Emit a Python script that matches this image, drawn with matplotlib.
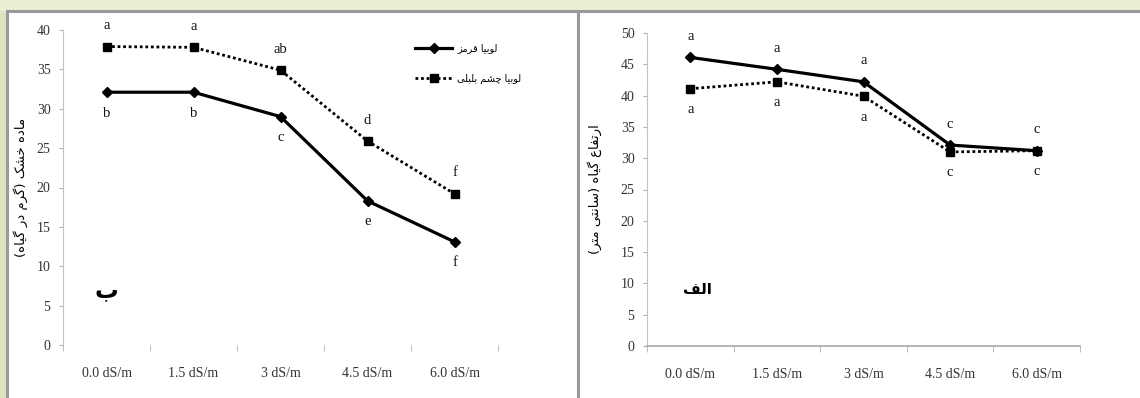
import matplotlib
matplotlib.use("Agg")
import matplotlib.pyplot as plt
from matplotlib.lines import Line2D
from matplotlib.patches import Rectangle

# --- data ---
salinity = ["0.0 dS/m", "1.5 dS/m", "3 dS/m", "4.5 dS/m", "6.0 dS/m"]

# panel "ب": dry matter (g per plant)
dry_red = [32.1, 32.1, 29.0, 18.3, 13.1]
dry_cowpea = [37.9, 37.8, 34.9, 25.9, 19.2]
dry_red_letters = ["b", "b", "c", "e", "f"]
dry_cowpea_letters = ["a", "a", "ab", "d", "f"]

# panel "الف": plant height (cm)
h_red = [46.1, 44.2, 42.2, 32.1, 31.2]
h_cowpea = [41.1, 42.2, 39.9, 31.0, 31.2]
h_red_letters = ["a", "a", "a", "c", "c"]
h_cowpea_letters = ["a", "a", "a", "c", "c"]

name_red = "لوبیا قرمز"
name_cowpea = "لوبیا چشم بلبلی"
ylabel_dry = "ماده خشک (گرم در گیاه)"
ylabel_height = "ارتفاع گیاه (سانتی متر)"

# --- minimal Persian shaping (no arabic_reshaper available) ---
# letter: (isolated, final, initial, medial)
FORMS = {
    "ا": ("\uFE8D", "\uFE8E", None, None),
    "د": ("\uFEA9", "\uFEAA", None, None),
    "ر": ("\uFEAD", "\uFEAE", None, None),
    "ز": ("\uFEAF", "\uFEB0", None, None),
    "و": ("\uFEED", "\uFEEE", None, None),
    "ب": ("\uFE8F", "\uFE90", "\uFE91", "\uFE92"),
    "ت": ("\uFE95", "\uFE96", "\uFE97", "\uFE98"),
    "خ": ("\uFEA5", "\uFEA6", "\uFEA7", "\uFEA8"),
    "س": ("\uFEB1", "\uFEB2", "\uFEB3", "\uFEB4"),
    "ش": ("\uFEB5", "\uFEB6", "\uFEB7", "\uFEB8"),
    "ع": ("\uFEC9", "\uFECA", "\uFECB", "\uFECC"),
    "ف": ("\uFED1", "\uFED2", "\uFED3", "\uFED4"),
    "ق": ("\uFED5", "\uFED6", "\uFED7", "\uFED8"),
    "ل": ("\uFEDD", "\uFEDE", "\uFEDF", "\uFEE0"),
    "م": ("\uFEE1", "\uFEE2", "\uFEE3", "\uFEE4"),
    "ن": ("\uFEE5", "\uFEE6", "\uFEE7", "\uFEE8"),
    "ه": ("\uFEE9", "\uFEEA", "\uFEEB", "\uFEEC"),
    "چ": ("\uFB7A", "\uFB7B", "\uFB7C", "\uFB7D"),
    "ک": ("\uFB8E", "\uFB8F", "\uFB90", "\uFB91"),
    "گ": ("\uFB92", "\uFB93", "\uFB94", "\uFB95"),
    "ی": ("\uFBFC", "\uFBFD", "\uFBFE", "\uFBFF"),
}
MIRROR = {"(": ")", ")": "("}


def shape(text):
    out = []
    for i, ch in enumerate(text):
        if ch not in FORMS:
            out.append(MIRROR.get(ch, ch))
            continue
        prev = text[i - 1] if i > 0 else ""
        nxt = text[i + 1] if i + 1 < len(text) else ""
        joins_prev = prev in FORMS and FORMS[prev][2] is not None
        joins_next = FORMS[ch][2] is not None and nxt in FORMS
        iso, fin, ini, med = FORMS[ch]
        if joins_prev and joins_next:
            out.append(med)
        elif joins_prev:
            out.append(fin)
        elif joins_next:
            out.append(ini)
        else:
            out.append(iso)
    return "".join(reversed(out))


SERIF = "Liberation Serif"
ARAB = "DejaVu Sans"
W, H = 1140, 398

fig = plt.figure(figsize=(W / 100, H / 100), dpi=100, facecolor="#dfe2bf")

# background frame like the screenshot (kept behind the axes)
fig.add_artist(Rectangle((0, 1 - 11 / H), 1, 11 / H, transform=fig.transFigure,
                         facecolor="#eceed4", edgecolor="none", zorder=-5))
fig.add_artist(Rectangle((7 / W, 0), 1, 1 - 11 / H, transform=fig.transFigure,
                         facecolor="white", edgecolor="none", zorder=-5))
border = dict(color="#999999", lw=2.2, transform=fig.transFigure, zorder=-4)
fig.add_artist(Line2D([7 / W, 1], [1 - 11 / H, 1 - 11 / H], **border))
fig.add_artist(Line2D([7 / W, 7 / W], [0, 1 - 11 / H], **border))
fig.add_artist(Line2D([578 / W, 578 / W], [0, 1 - 11 / H], **border))

ax1 = fig.add_axes([63 / W, 1 - 345 / H, 435 / W, 315 / H])
ax2 = fig.add_axes([647 / W, 1 - 346 / H, 433 / W, 313 / H])


def draw_panel(ax, red, cow, red_lab, cow_lab, ymax, red_above, show_bottom):
    x = list(range(len(salinity)))
    ax.plot(x, red, color="black", lw=2.3, marker="D", ms=5,
            label=shape(name_red))
    ax.plot(x, cow, color="black", lw=2.0, ls=(0, (1.0, 1.0)), marker="s", ms=6,
            label=shape(name_cowpea))

    off_red = 15 if red_above else -15
    for xi, v, s in zip(x, red, red_lab):
        ax.annotate(s, (xi, v), xytext=(0, off_red), textcoords="offset points",
                    ha="center", va="center", fontsize=10.5, family=SERIF,
                    color="#111111")
    for xi, v, s in zip(x, cow, cow_lab):
        ax.annotate(s, (xi, v), xytext=(0, -off_red), textcoords="offset points",
                    ha="center", va="center", fontsize=10.5, family=SERIF,
                    color="#111111")

    ax.set_xlim(-0.5, len(salinity) - 0.5)
    ax.set_ylim(0, ymax)
    ax.set_xticks(x)
    ax.set_xticklabels(salinity, family=SERIF, fontsize=10, color="#333333")
    ax.set_xticks([i - 0.5 for i in range(len(salinity) + 1)], minor=True)
    ax.tick_params(axis="x", which="major", length=0, pad=16)
    ax.tick_params(axis="x", which="minor", length=4, color="#b0b0b0")
    ax.set_yticks(range(0, ymax + 1, 5))
    ax.tick_params(axis="y", length=3, color="#b0b0b0", pad=6, labelsize=10,
                   labelcolor="#333333")
    for lab in ax.get_yticklabels():
        lab.set_family(SERIF)

    for side in ["top", "right"]:
        ax.spines[side].set_visible(False)
    ax.spines["left"].set_color("#c4c4c4")
    ax.spines["bottom"].set_color("#a8a8a8")
    ax.spines["bottom"].set_linewidth(1.2)
    ax.spines["bottom"].set_visible(show_bottom)
    ax.patch.set_alpha(0)


draw_panel(ax1, dry_red, dry_cowpea, dry_red_letters, dry_cowpea_letters,
           40, False, False)
draw_panel(ax2, h_red, h_cowpea, h_red_letters, h_cowpea_letters,
           50, True, True)

ax1.set_ylabel(shape(ylabel_dry), family=ARAB, fontsize=9.5)
ax1.yaxis.set_label_coords(-(63 - 28) / 435, 0.5)
ax2.set_ylabel(shape(ylabel_height), family=ARAB, fontsize=9.5)
ax2.yaxis.set_label_coords(-(647 - 602) / 433, 0.5)

ax1.text(0.0, 7.0, shape("ب"), family=ARAB, fontsize=17, fontweight="bold",
         ha="center", va="center")
ax2.text(0.08, 9.1, shape("الف"), family=ARAB, fontsize=11, fontweight="bold",
         ha="center", va="center")

ax1.legend(loc="upper left", bbox_to_anchor=(0.79, 0.985), frameon=False,
           prop={"family": ARAB, "size": 7}, handlelength=3.8, labelspacing=2.1,
           numpoints=1, handletextpad=0.5)

fig.savefig("out.png", dpi=100, facecolor=fig.get_facecolor())
